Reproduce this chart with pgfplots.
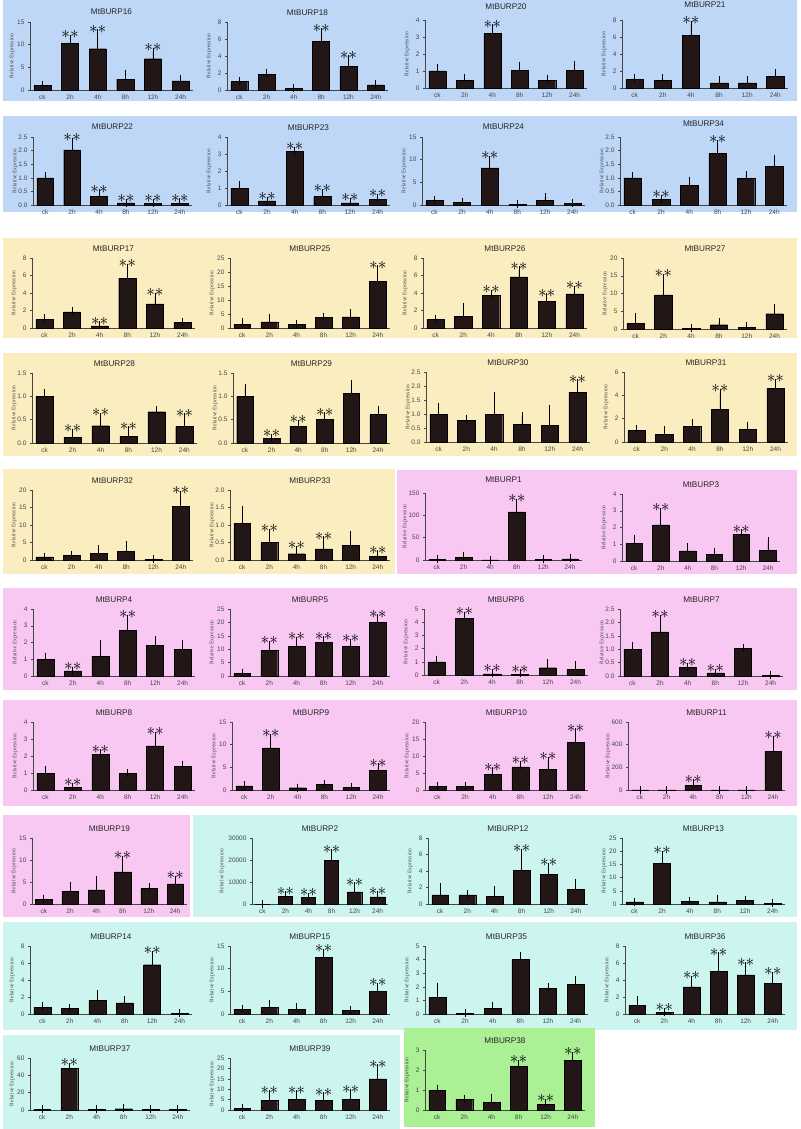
\documentclass[border=0pt]{standalone}
\usepackage{pgfplots}
\pgfplotsset{compat=1.18}
\usepackage{fontspec}
\setmainfont{Liberation Sans}
\newfontfamily\serif{Liberation Serif}
\definecolor{bgblue}{RGB}{190,215,247}
\definecolor{bgyel}{RGB}{250,238,192}
\definecolor{bgpink}{RGB}{248,200,243}
\definecolor{bgcyan}{RGB}{204,245,240}
\definecolor{bggreen}{RGB}{172,240,150}
\definecolor{barc}{RGB}{35,22,22}
\definecolor{axc}{RGB}{70,70,70}
\newcommand{\stars}{\fontsize{17}{17}\selectfont$\ast\ast$}
\pgfplotsset{
  ylab/.style={every axis y label/.style={at={(0,0.5)}, xshift=#1, rotate=90, anchor=center,
      font=\serif\fontsize{5.5}{6}\selectfont, text=black!75}},
  burp/.style={
    scale only axis, anchor=south west,
    xmin=-0.45, xmax=5.45, ymin=0,
    axis x line=bottom, axis y line=left,
    axis line style={-, draw=axc, line width=0.5pt},
    xtick={0,...,5}, xticklabels={ck,2h,4h,8h,12h,24h},
    xtick style={draw=none},
    ytick style={draw=axc, line width=0.5pt},
    tick align=outside, major tick length=2pt,
    tick label style={font=\fontsize{6.5}{7}\selectfont, text=axc},
    xticklabel style={yshift=1pt},
    /pgf/number format/assume math mode=true,
    /pgf/number format/1000 sep={},
    scaled y ticks=false,
    ylabel={Relative Expression},
    ylab=-18pt,
    title style={font=\fontsize{8.2}{9}\selectfont, text=black!85, at={(0.5,1)}, anchor=base, yshift=1pt, inner sep=0.5pt},
    clip=false,
  },
  hi/.style={title style={yshift=#1}}, hi/.default=3.5pt,
  dec/.style={yticklabel style={/pgf/number format/fixed, /pgf/number format/precision=1, /pgf/number format/fixed zerofill}},
  barplot/.style={ybar, bar width=0.62, fill=barc, draw=black, line width=0.4pt,
    error bars/y dir=plus, error bars/y explicit,
    error bars/error bar style={line width=0.8pt, black},
    error bars/error mark options={line width=0.8pt, black, mark size=4pt}},
  starplot/.style={only marks, mark=none, nodes near coords={\stars},
    every node near coord/.append style={anchor=south, inner sep=0pt, yshift=0pt, text=black}},
}
\newcommand{\burp}[8]{%
\begin{axis}[burp, at={(#1pt,-#2pt)}, width=#3pt, height=#4pt, title={#5}, #6]
\addplot[barplot] coordinates {#7};
\if\relax\detokenize{#8}\relax\else\addplot[starplot] coordinates {#8};\fi
\end{axis}}
\begin{document}
\begin{tikzpicture}
\path[use as bounding box] (0pt,0pt) rectangle (800pt,-1129pt);
\fill[white] (0pt,0pt) rectangle (800pt,-1129pt);
\fill[bgblue] (3pt,0pt) rectangle (797pt,-101pt);
\fill[bgblue] (3pt,-116pt) rectangle (797pt,-212pt);
\fill[bgyel] (3pt,-238pt) rectangle (797pt,-338pt);
\fill[bgyel] (3pt,-353pt) rectangle (797pt,-456pt);
\fill[bgyel] (3pt,-469pt) rectangle (395pt,-574pt);
\fill[bgpink] (397pt,-470pt) rectangle (797pt,-574pt);
\fill[bgpink] (3pt,-588pt) rectangle (797pt,-690pt);
\fill[bgpink] (3pt,-700pt) rectangle (797pt,-806pt);
\fill[bgpink] (3pt,-815pt) rectangle (190pt,-917pt);
\fill[bgcyan] (193pt,-815pt) rectangle (797pt,-917pt);
\fill[bgcyan] (3pt,-922pt) rectangle (797pt,-1030pt);
\fill[bgcyan] (3pt,-1035pt) rectangle (400pt,-1129pt);
\fill[bggreen] (404pt,-1028pt) rectangle (595pt,-1127pt);

% Row 1
\burp{30}{90}{163}{68}{MtBURP16}{ymax=15,ytick={0,5,10,15}}
{(0,1.0) +- (0,0.2) (1,10.3) +- (0,1.0) (2,9.1) +- (0,3.4) (3,2.4) +- (0,1.1) (4,6.9) +- (0,1.5) (5,2.0) +- (0,0.4)}
{(1,11.3) (2,12.5) (4,8.4)}
\burp{227}{90}{161}{68}{MtBURP18}{ymax=8,ytick={0,2,4,6,8}}
{(0,1.0) +- (0,0.1) (1,1.85) +- (0,0.15) (2,0.2) +- (0,0.05) (3,5.7) +- (0,1.1) (4,2.75) +- (0,0.85) (5,0.6) +- (0,0.1)}
{(3,6.8) (4,3.6)}
\burp{425}{88}{162}{68}{MtBURP20}{ymax=4,ytick={0,1,2,3,4},hi}
{(0,1.0) +- (0,0.15) (1,0.45) +- (0,0.15) (2,3.2) +- (0,0.3) (3,1.05) +- (0,0.25) (4,0.45) +- (0,0.1) (5,1.05) +- (0,0.3)}
{(2,3.5)}
\burp{622}{88}{166}{68}{MtBURP21}{ymax=8,ytick={0,2,4,6,8},hi=5.5pt}
{(0,1.0) +- (0,0.2) (1,0.9) +- (0,0.3) (2,6.2) +- (0,1.2) (3,0.6) +- (0,0.3) (4,0.6) +- (0,0.3) (5,1.4) +- (0,0.35)}
{(2,7.4)}
% Row 2
\burp{33}{205}{159}{68}{MtBURP22}{ymax=2.5,ytick={0,0.5,1,1.5,2,2.5},dec}
{(0,1.0) +- (0,0.05) (1,2.03) +- (0,0.29) (2,0.33) +- (0,0.1) (3,0.08) +- (0,0.01) (4,0.07) +- (0,0.02) (5,0.07) +- (0,0.03)}
{(1,2.32) (2,0.43) (3,0.09) (4,0.09) (5,0.1)}
\burp{227}{205}{163}{68}{MtBURP23}{ymax=4,ytick={0,1,2,3,4}}
{(0,1.0) +- (0,0.15) (1,0.25) +- (0,0.01) (2,3.15) +- (0,0.05) (3,0.5) +- (0,0.2) (4,0.12) +- (0,0.05) (5,0.35) +- (0,0.07)}
{(1,0.26) (2,3.2) (3,0.7) (4,0.17) (5,0.42)}
\burp{422}{205}{163}{68}{MtBURP24}{ymax=15,ytick={0,5,10,15}}
{(0,1.0) +- (0,0.1) (1,0.55) +- (0,0.05) (2,8.2) +- (0,1.7) (3,0.15) +- (0,0.02) (4,1.0) +- (0,0.7) (5,0.3) +- (0,0.05)}
{(2,9.9)}
\burp{620}{205}{167}{68}{MtBURP34}{ymax=2.5,ytick={0,0.5,1,1.5,2,2.5},dec,hi}
{(0,1.0) +- (0,0.05) (1,0.2) +- (0,0.03) (2,0.72) +- (0,0.18) (3,1.9) +- (0,0.35) (4,0.98) +- (0,0.12) (5,1.42) +- (0,0.28)}
{(1,0.23) (3,2.25)}
% Row 3
\burp{32}{328}{163}{70}{MtBURP17}{ymax=8,ytick={0,2,4,6,8}}
{(0,1.0) +- (0,0.1) (1,1.85) +- (0,0.1) (2,0.25) +- (0,0.05) (3,5.7) +- (0,1.15) (4,2.75) +- (0,0.8) (5,0.65) +- (0,0.05)}
{(2,0.3) (3,6.85) (4,3.55)}
\burp{230}{328}{160}{70}{MtBURP25}{ymax=25,ytick={0,5,10,15,20,25}}
{(0,1.2) +- (0,0.8) (1,2.2) +- (0,1.4) (2,1.3) +- (0,0.3) (3,3.8) +- (0,0.3) (4,4.0) +- (0,1.3) (5,16.6) +- (0,4.4)}
{(5,21)}
\burp{423}{328}{164}{70}{MtBURP26}{ymax=8,ytick={0,2,4,6,8}}
{(0,1.0) +- (0,0.02) (1,1.35) +- (0,1.05) (2,3.75) +- (0,0.15) (3,5.85) +- (0,0.75) (4,3.05) +- (0,0.45) (5,3.9) +- (0,0.45)}
{(2,3.9) (3,6.6) (4,3.5) (5,4.35)}
\burp{623}{329}{164}{71}{MtBURP27}{ymax=20,ytick={0,5,10,15,20}}
{(0,1.5) +- (0,1.8) (1,9.6) +- (0,4.8) (2,0.2) +- (0,0.05) (3,1.2) +- (0,0.7) (4,0.4) +- (0,0.4) (5,4.3) +- (0,1.5)}
{(1,14.4)}
% Row 4
\burp{32}{443}{165}{70}{MtBURP28}{ymax=1.5,ytick={0,0.5,1,1.5},dec}
{(0,1.0) +- (0,0.07) (1,0.12) +- (0,0.1) (2,0.37) +- (0,0.19) (3,0.14) +- (0,0.13) (4,0.67) +- (0,0.03) (5,0.35) +- (0,0.2)}
{(1,0.22) (2,0.56) (3,0.27) (5,0.55)}
\burp{233}{443}{157}{70}{MtBURP29}{ymax=1.5,ytick={0,0.5,1,1.5},dec}
{(0,1.0) +- (0,0.17) (1,0.1) +- (0,0.01) (2,0.36) +- (0,0.05) (3,0.5) +- (0,0.07) (4,1.07) +- (0,0.2) (5,0.61) +- (0,0.1)}
{(1,0.11) (2,0.41) (3,0.57)}
\burp{426}{442}{164}{70}{MtBURP30}{ymax=2.5,ytick={0,0.5,1,1.5,2,2.5},dec}
{(0,1.0) +- (0,0.24) (1,0.78) +- (0,0.05) (2,1.0) +- (0,0.65) (3,0.64) +- (0,0.28) (4,0.6) +- (0,0.58) (5,1.78) +- (0,0.32)}
{(5,2.1)}
\burp{624}{442}{164}{70}{MtBURP31}{ymax=6,ytick={0,2,4,6}}
{(0,1.0) +- (0,0.1) (1,0.65) +- (0,0.35) (2,1.35) +- (0,0.3) (3,2.8) +- (0,1.4) (4,1.1) +- (0,0.3) (5,4.6) +- (0,0.45)}
{(3,4.2) (5,5.05)}
% Row 5
\burp{32}{560}{161}{70}{MtBURP32}{ymax=20,ytick={0,5,10,15,20}}
{(0,0.9) +- (0,0.1) (1,1.3) +- (0,0.2) (2,1.9) +- (0,1.3) (3,2.4) +- (0,1.8) (4,0.15) +- (0,0.02) (5,15.4) +- (0,3.2)}
{(5,18.6)}
\burp{230}{560}{160}{70}{MtBURP33}{ymax=2,ytick={0,0.5,1,1.5,2},dec}
{(0,1.05) +- (0,0.38) (1,0.5) +- (0,0.27) (2,0.18) +- (0,0.12) (3,0.32) +- (0,0.24) (4,0.42) +- (0,0.3) (5,0.1) +- (0,0.06)}
{(1,0.77) (2,0.3) (3,0.56) (5,0.16)}
\burp{425}{560}{157}{67}{MtBURP1}{ymax=150,ytick={0,50,100,150},ylab=-20pt,hi}
{(0,1) +- (0,0.3) (1,6) +- (0,3) (2,0.5) +- (0,0.1) (3,108) +- (0,20) (4,1) +- (0,0.2) (5,2.5) +- (0,2)}
{(3,128)}
\burp{622}{561}{158}{67}{MtBURP3}{ymax=4,ytick={0,1,2,3,4}}
{(0,1.05) +- (0,0.27) (1,2.15) +- (0,0.8) (2,0.6) +- (0,0.22) (3,0.38) +- (0,0.18) (4,1.6) +- (0,0.05) (5,0.62) +- (0,0.56)}
{(1,2.95) (4,1.65)}
% Row 6
\burp{33}{676}{162}{67}{MtBURP4}{ymax=4,ytick={0,1,2,3,4}}
{(0,1.0) +- (0,0.15) (1,0.3) +- (0,0.02) (2,1.18) +- (0,0.72) (3,2.72) +- (0,0.68) (4,1.85) +- (0,0.28) (5,1.6) +- (0,0.3)}
{(1,0.32) (3,3.4)}
\burp{230}{676}{160}{67}{MtBURP5}{ymax=25,ytick={0,5,10,15,20,25}}
{(0,1.0) +- (0,0.3) (1,9.6) +- (0,2.1) (2,11.1) +- (0,1.9) (3,12.6) +- (0,0.7) (4,11.1) +- (0,1.2) (5,19.9) +- (0,1.6)}
{(1,11.7) (2,13) (3,13.3) (4,12.3) (5,21.5)}
\burp{424}{675}{164}{66}{MtBURP6}{ymax=5,ytick={0,1,2,3,4,5}}
{(0,1.0) +- (0,0.15) (1,4.3) +- (0,0.2) (2,0.08) +- (0,0.07) (3,0.07) +- (0,0.05) (4,0.55) +- (0,0.35) (5,0.45) +- (0,0.3)}
{(1,4.5) (2,0.15) (3,0.12)}
\burp{620}{676}{163}{67}{MtBURP7}{ymax=2.5,ytick={0,0.5,1,1.5,2,2.5},dec}
{(0,1.0) +- (0,0.12) (1,1.65) +- (0,0.47) (2,0.32) +- (0,0.01) (3,0.12) +- (0,0.01) (4,1.03) +- (0,0.01) (5,0.03) +- (0,0.005)}
{(1,2.12) (2,0.33) (3,0.13)}
% Row 7
\burp{33}{790}{162}{68}{MtBURP8}{ymax=4,ytick={0,1,2,3,4}}
{(0,1.0) +- (0,0.15) (1,0.15) +- (0,0.02) (2,2.1) +- (0,0.05) (3,1.0) +- (0,0.02) (4,2.6) +- (0,0.6) (5,1.4) +- (0,0.1)}
{(1,0.17) (2,2.15) (4,3.2)}
\burp{232}{790}{158}{68}{MtBURP9}{ymax=15,ytick={0,5,10,15}}
{(0,0.9) +- (0,0.1) (1,9.3) +- (0,2.2) (2,0.5) +- (0,0.05) (3,1.2) +- (0,0.1) (4,0.6) +- (0,0.1) (5,4.4) +- (0,0.6)}
{(1,11.5) (5,5)}
\burp{425}{790}{163}{68}{MtBURP10}{ymax=20,ytick={0,5,10,15,20}}
{(0,1) +- (0,0.2) (1,1) +- (0,0.2) (2,4.6) +- (0,0.9) (3,6.8) +- (0,0.7) (4,6) +- (0,2.5) (5,14) +- (0,3)}
{(2,5.5) (3,7.5) (4,8.5) (5,17)}
\burp{628}{790}{157}{68}{MtBURP11}{ymax=600,ytick={0,200,400,600},ylab=-20pt}
{(0,1) +- (0,0.5) (1,1) +- (0,0.5) (2,40) +- (0,20) (3,1) +- (0,0.5) (4,1) +- (0,0.5) (5,340) +- (0,100)}
{(2,60) (5,440)}
% Row 8
\burp{32}{904}{155}{66}{MtBURP19}{ymax=15,ytick={0,5,10,15}}
{(0,1) +- (0,0.2) (1,2.8) +- (0,1.4) (2,3.2) +- (0,2.3) (3,7.3) +- (0,2.7) (4,3.5) +- (0,0.4) (5,4.6) +- (0,0.9)}
{(3,10) (5,5.5)}
\burp{252}{904}{136}{66}{MtBURP2}{ymax=30000,ytick={0,10000,20000,30000},ylab=-30pt}
{(0,1) +- (0,1) (1,3500) +- (0,500) (2,3000) +- (0,400) (3,20000) +- (0,3000) (4,5500) +- (0,2500) (5,3200) +- (0,800)}
{(1,4000) (2,3400) (3,23000) (4,8000) (5,4000)}
\burp{428}{904}{160}{66}{MtBURP12}{ymax=8,ytick={0,2,4,6,8}}
{(0,1.1) +- (0,1.0) (1,1.1) +- (0,0.1) (2,0.9) +- (0,0.8) (3,4.1) +- (0,2.1) (4,3.6) +- (0,0.9) (5,1.8) +- (0,0.7)}
{(3,6.2) (4,4.5)}
\burp{622}{904}{163}{66}{MtBURP13}{ymax=25,ytick={0,5,10,15,20,25}}
{(0,0.8) +- (0,0.1) (1,15.5) +- (0,3) (2,1.1) +- (0,0.1) (3,0.8) +- (0,1.0) (4,1.5) +- (0,0.2) (5,0.2) +- (0,0.05)}
{(1,18.5)}
% Row 9
\burp{30}{1014}{162}{68}{MtBURP14}{ymax=8,ytick={0,2,4,6,8}}
{(0,0.8) +- (0,0.1) (1,0.7) +- (0,0.05) (2,1.6) +- (0,0.7) (3,1.3) +- (0,0.3) (4,5.8) +- (0,1.2) (5,0.1) +- (0,0.02)}
{(4,7)}
\burp{230}{1014}{160}{68}{MtBURP15}{ymax=15,ytick={0,5,10,15}}
{(0,1) +- (0,0.1) (1,1.4) +- (0,0.8) (2,1) +- (0,0.6) (3,12.5) +- (0,1) (4,0.8) +- (0,0.1) (5,5) +- (0,1)}
{(3,13.5) (5,6)}
\burp{425}{1014}{163}{68}{MtBURP35}{ymax=5,ytick={0,1,2,3,4,5}}
{(0,1.2) +- (0,0.8) (1,0.05) +- (0,0.01) (2,0.4) +- (0,0.2) (3,4.0) +- (0,0.3) (4,1.9) +- (0,0.1) (5,2.2) +- (0,0.3)}
{}
\burp{625}{1014}{160}{68}{MtBURP36}{ymax=8,ytick={0,2,4,6,8}}
{(0,1) +- (0,0.7) (1,0.2) +- (0,0.05) (2,3.2) +- (0,0.8) (3,5) +- (0,1.8) (4,4.6) +- (0,1) (5,3.6) +- (0,0.9)}
{(1,0.25) (2,4) (3,6.8) (4,5.6) (5,4.5)}
% Row 10
\burp{30}{1110}{160}{52}{MtBURP37}{ymax=60,ytick={0,20,40,60}}
{(0,1) +- (0,0.3) (1,48) +- (0,2) (2,0.5) +- (0,0.1) (3,1.5) +- (0,1) (4,0.5) +- (0,0.1) (5,0.5) +- (0,0.1)}
{(1,50)}
\burp{230}{1110}{160}{52}{MtBURP39}{ymax=25,ytick={0,5,10,15,20,25}}
{(0,0.8) +- (0,0.1) (1,4.8) +- (0,2.7) (2,5) +- (0,2.5) (3,4.5) +- (0,2) (4,5) +- (0,3) (5,15) +- (0,5)}
{(1,7.5) (2,7.5) (3,6.5) (4,8) (5,20)}
\burp{425}{1110}{160}{60}{MtBURP38}{ymax=3,ytick={0,1,2,3}}
{(0,1) +- (0,0.05) (1,0.55) +- (0,0.02) (2,0.4) +- (0,0.2) (3,2.2) +- (0,0.1) (4,0.3) +- (0,0.05) (5,2.5) +- (0,0.2)}
{(3,2.3) (4,0.35) (5,2.7)}
\end{tikzpicture}
\end{document}
